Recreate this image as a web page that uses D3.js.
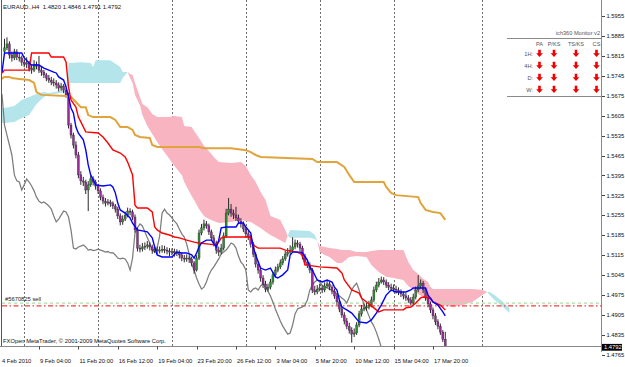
<!DOCTYPE html>
<html><head><meta charset="utf-8">
<script src="https://cdn.jsdelivr.net/npm/d3@7"></script>
<style>
html,body{margin:0;padding:0;background:#fff;}
svg{display:block;font-family:"Liberation Sans",Arial,sans-serif;}
text{white-space:pre;}
</style></head><body>
<svg id="c" width="625" height="367"></svg>
<script>
// ---------- DATA ----------
const titleText = "EURAUD.,H4  1.4820 1.4846 1.4791 1.4792";
const footerText = "FXOpen MetaTrader, \u00A9 2001-2009 MetaQuotes Software Corp.";
const orderLabel = "#5670825 sell";
const orderPrice = 1.4937;
const targetPrice = 1.4947;
const lastPrice = 1.4792;

const opens = [
1.5830,1.5843,1.5857,1.5818,1.5808,1.5829,1.5811,1.5808,1.5793,1.5786,
1.5790,1.5772,1.5765,1.5786,1.5779,1.5765,1.5758,1.5748,1.5737,1.5730,
1.5723,1.5720,1.5713,1.5702,1.5709,1.5695,1.5678,1.5572,1.5537,1.5502,
1.5467,1.5397,1.5376,1.5372,1.5344,1.5362,1.5383,1.5372,1.5358,1.5341,
1.5319,1.5305,1.5298,1.5302,1.5296,1.5288,1.5277,1.5253,1.5232,1.5242,
1.5256,1.5270,1.5267,1.5249,1.5204,1.5140,1.5137,1.5144,1.5147,1.5151,
1.5144,1.5133,1.5135,1.5131,1.5133,1.5136,1.5133,1.5130,1.5126,1.5128,
1.5123,1.5124,1.5116,1.5105,1.5102,1.5105,1.5102,1.5088,1.5063,1.5105,
1.5193,1.5211,1.5225,1.5218,1.5197,1.5176,1.5158,1.5133,1.5126,1.5140,
1.5183,1.5263,1.5277,1.5263,1.5256,1.5246,1.5235,1.5225,1.5207,1.5190,
1.5179,1.5154,1.5119,1.5084,1.5063,1.5035,1.5014,1.4996,1.5003,1.5021,
1.5046,1.5063,1.5074,1.5088,1.5102,1.5119,1.5126,1.5133,1.5144,1.5158,
1.5154,1.5140,1.5112,1.5091,1.5081,1.5063,1.4993,1.4986,1.4996,1.5000,
1.4993,1.5007,1.5014,1.5003,1.4989,1.4972,1.4951,1.4926,1.4905,1.4884,
1.4866,1.4852,1.4838,1.4842,1.4870,1.4909,1.4926,1.4930,1.4933,1.4940,
1.4958,1.4993,1.5010,1.5021,1.5028,1.5021,1.5010,1.5003,1.5000,1.4996,
1.4993,1.4986,1.4979,1.4972,1.4965,1.4958,1.4947,1.4968,1.4993,1.5007,
1.5017,1.4993,1.4965,1.4944,1.4923,1.4902,1.4881,1.4866,1.4845,1.4820];

const highs = [
1.5875,1.5880,1.5866,1.5830,1.5840,1.5838,1.5825,1.5816,1.5804,1.5810,
1.5797,1.5784,1.5800,1.5795,1.5815,1.5777,1.5766,1.5755,1.5748,1.5741,
1.5736,1.5730,1.5722,1.5720,1.5716,1.5703,1.5686,1.5580,1.5545,1.5515,
1.5478,1.5410,1.5390,1.5380,1.5375,1.5395,1.5392,1.5380,1.5366,1.5350,
1.5328,1.5316,1.5312,1.5310,1.5304,1.5295,1.5285,1.5262,1.5255,1.5268,
1.5282,1.5280,1.5275,1.5258,1.5212,1.5152,1.5158,1.5160,1.5165,1.5160,
1.5152,1.5148,1.5145,1.5146,1.5150,1.5148,1.5143,1.5140,1.5139,1.5138,
1.5136,1.5132,1.5124,1.5116,1.5118,1.5114,1.5110,1.5095,1.5115,1.5205,
1.5225,1.5240,1.5235,1.5226,1.5205,1.5186,1.5166,1.5145,1.5155,1.5195,
1.5278,1.5316,1.5295,1.5275,1.5285,1.5258,1.5245,1.5234,1.5215,1.5200,
1.5186,1.5162,1.5126,1.5095,1.5072,1.5045,1.5025,1.5015,1.5032,1.5055,
1.5075,1.5085,1.5100,1.5112,1.5130,1.5140,1.5150,1.5178,1.5170,1.5168,
1.5162,1.5148,1.5120,1.5100,1.5090,1.5070,1.5008,1.5010,1.5015,1.5010,
1.5020,1.5025,1.5022,1.5010,1.4998,1.4980,1.4960,1.4935,1.4915,1.4895,
1.4878,1.4862,1.4858,1.4880,1.4920,1.4940,1.4945,1.4948,1.4955,1.4970,
1.5005,1.5022,1.5035,1.5040,1.5038,1.5030,1.5020,1.5015,1.5012,1.5008,
1.5002,1.4995,1.4988,1.4982,1.4975,1.4968,1.4980,1.5005,1.5045,1.5030,
1.5025,1.5000,1.4975,1.4952,1.4932,1.4912,1.4890,1.4875,1.4852,1.4846];

const lows = [
1.5822,1.5835,1.5805,1.5795,1.5800,1.5800,1.5795,1.5780,1.5775,1.5772,
1.5760,1.5752,1.5758,1.5768,1.5755,1.5745,1.5737,1.5726,1.5720,1.5712,
1.5708,1.5700,1.5690,1.5692,1.5684,1.5668,1.5560,1.5525,1.5490,1.5455,
1.5385,1.5362,1.5358,1.5330,1.5270,1.5355,1.5360,1.5345,1.5330,1.5308,
1.5294,1.5286,1.5290,1.5285,1.5277,1.5265,1.5242,1.5220,1.5222,1.5235,
1.5248,1.5255,1.5238,1.5195,1.5128,1.5125,1.5128,1.5133,1.5138,1.5132,
1.5120,1.5122,1.5119,1.5121,1.5124,1.5122,1.5118,1.5112,1.5115,1.5110,
1.5112,1.5104,1.5094,1.5090,1.5092,1.5088,1.5076,1.5050,1.5058,1.5098,
1.5185,1.5202,1.5208,1.5186,1.5165,1.5146,1.5120,1.5112,1.5118,1.5132,
1.5175,1.5255,1.5250,1.5242,1.5235,1.5225,1.5212,1.5196,1.5178,1.5168,
1.5142,1.5108,1.5072,1.5050,1.5022,1.5000,1.4985,1.4988,1.4995,1.5012,
1.5038,1.5055,1.5066,1.5080,1.5095,1.5110,1.5118,1.5125,1.5136,1.5142,
1.5128,1.5100,1.5080,1.5070,1.5052,1.4982,1.4975,1.4978,1.4988,1.4982,
1.4985,1.5000,1.4992,1.4978,1.4962,1.4940,1.4915,1.4895,1.4872,1.4855,
1.4840,1.4808,1.4828,1.4835,1.4862,1.4900,1.4918,1.4920,1.4925,1.4932,
1.4950,1.4985,1.5002,1.5015,1.5010,1.5000,1.4992,1.4988,1.4985,1.4980,
1.4975,1.4968,1.4960,1.4955,1.4948,1.4938,1.4940,1.4960,1.4985,1.4998,
1.4982,1.4955,1.4932,1.4912,1.4890,1.4870,1.4855,1.4835,1.4810,1.4791];

const closes = [
1.5843,1.5857,1.5818,1.5808,1.5829,1.5811,1.5808,1.5793,1.5786,1.5790,
1.5772,1.5765,1.5786,1.5779,1.5765,1.5758,1.5748,1.5737,1.5730,1.5723,
1.5720,1.5713,1.5702,1.5709,1.5695,1.5678,1.5572,1.5537,1.5502,1.5467,
1.5397,1.5376,1.5372,1.5344,1.5362,1.5383,1.5372,1.5358,1.5341,1.5319,
1.5305,1.5298,1.5302,1.5296,1.5288,1.5277,1.5253,1.5232,1.5242,1.5256,
1.5270,1.5267,1.5249,1.5204,1.5140,1.5137,1.5144,1.5147,1.5151,1.5144,
1.5133,1.5135,1.5131,1.5133,1.5136,1.5133,1.5130,1.5126,1.5128,1.5123,
1.5124,1.5116,1.5105,1.5102,1.5105,1.5102,1.5088,1.5063,1.5105,1.5193,
1.5211,1.5225,1.5218,1.5197,1.5176,1.5158,1.5133,1.5126,1.5140,1.5183,
1.5263,1.5277,1.5263,1.5256,1.5246,1.5235,1.5225,1.5207,1.5190,1.5179,
1.5154,1.5119,1.5084,1.5063,1.5035,1.5014,1.4996,1.5003,1.5021,1.5046,
1.5063,1.5074,1.5088,1.5102,1.5119,1.5126,1.5133,1.5144,1.5158,1.5154,
1.5140,1.5112,1.5091,1.5081,1.5063,1.4993,1.4986,1.4996,1.5000,1.4993,
1.5007,1.5014,1.5003,1.4989,1.4972,1.4951,1.4926,1.4905,1.4884,1.4866,
1.4852,1.4838,1.4842,1.4870,1.4909,1.4926,1.4930,1.4933,1.4940,1.4958,
1.4993,1.5010,1.5021,1.5028,1.5021,1.5010,1.5003,1.5000,1.4996,1.4993,
1.4986,1.4979,1.4972,1.4965,1.4958,1.4947,1.4968,1.4993,1.5007,1.5017,
1.4993,1.4965,1.4944,1.4923,1.4902,1.4881,1.4866,1.4845,1.4820,1.4792];

// Tenkan-sen (blue) at bar indices
const tenkanIdx = [-1,0,7,8,10,11,14,16,18,20,21,22,24,25,26,27,28,29,30,32,33,34,35,37,40,43,44,45,46,47,49,51,52,54,58,60,61,62,64,68,70,72,74,76,77,78,79,80,82,84,86,87,88,90,94,95,97,98,100,101,102,104,106,108,110,111,113,115,116,117,120,121,123,124,125,127,129,131,133,134,135,136,137,139,141,144,147,149,151,153,155,157,159,163,165,166,171,172,174,176,178,179];
const tenkanVal = [1.5758,1.5825,1.5825,1.5808,1.5790,1.5783,1.5783,1.5772,1.5765,1.5758,
1.5755,1.5741,1.5730,1.5706,1.5671,1.5632,1.5614,1.5565,1.5544,1.5520,
1.5485,1.5432,1.5397,1.5362,1.5358,1.5362,1.5355,1.5334,1.5298,1.5274,
1.5263,1.5246,1.5228,1.5204,1.5197,1.5176,1.5144,1.5116,1.5109,1.5109,
1.5126,1.5123,1.5123,1.5116,1.5105,1.5123,1.5144,1.5158,1.5168,1.5168,
1.5144,1.5168,1.5211,1.5214,1.5214,1.5228,1.5228,1.5214,1.5193,1.5144,
1.5116,1.5070,1.5063,1.5070,1.5039,1.5035,1.5046,1.5063,1.5116,1.5126,
1.5126,1.5123,1.5098,1.5074,1.5063,1.5028,1.5021,1.5028,1.5021,1.5003,
1.4993,1.4958,1.4933,1.4923,1.4912,1.4881,1.4877,1.4888,1.4912,1.4940,
1.4975,1.4993,1.4986,1.4986,1.4993,1.5000,1.5000,1.4975,1.4951,1.4940,
1.4916,1.4902];

// Kijun-sen (red)
const kijunIdx = [-1,0,10,11,18,19,24,25,26,27,29,30,31,33,38,40,42,44,47,49,50,52,53,54,58,60,61,62,64,67,69,71,74,77,79,83,86,87,88,90,100,101,103,112,114,119,121,122,128,135,137,138,141,144,145,146,150,152,154,162,163,165,167,169,170,173,174,177,179];
const kijunVal = [1.5755,1.5765,1.5765,1.5825,1.5825,1.5811,1.5811,1.5793,1.5706,1.5660,
1.5635,1.5600,1.5583,1.5548,1.5544,1.5530,1.5509,1.5485,1.5474,1.5460,
1.5442,1.5397,1.5291,1.5281,1.5281,1.5267,1.5214,1.5204,1.5193,1.5186,
1.5179,1.5176,1.5168,1.5161,1.5158,1.5154,1.5151,1.5161,1.5176,1.5179,
1.5179,1.5151,1.5140,1.5140,1.5133,1.5126,1.5116,1.5081,1.5074,1.5070,
1.5053,1.5028,1.4993,1.4982,1.4965,1.4958,1.4930,1.4916,1.4923,1.4923,
1.4930,1.4933,1.4947,1.4965,1.4968,1.4965,1.4951,1.4940,1.4923];

// Long-period line (orange)
const longIdx = [-2,0,2,3,6,10,12,13,15,25,27,29,31,33,34,36,43,45,47,50,52,53,55,59,60,62,79,81,92,98,100,102,104,125,127,135,138,140,142,154,155,157,159,168,169,171,174,177,179];
const longVal = [1.5730,1.5741,1.5741,1.5737,1.5734,1.5730,1.5720,1.5688,1.5678,1.5674,
1.5671,1.5653,1.5635,1.5635,1.5607,1.5600,1.5600,1.5590,1.5565,1.5565,
1.5555,1.5537,1.5530,1.5527,1.5502,1.5495,1.5495,1.5491,1.5491,1.5484,
1.5477,1.5467,1.5460,1.5453,1.5442,1.5442,1.5425,1.5397,1.5372,1.5372,
1.5355,1.5334,1.5326,1.5319,1.5298,1.5274,1.5267,1.5263,1.5239];

// Senkou spans (cloud), shifted 26 bars ahead
const cloudIdx = [-1,0,4,7,10,13,16,18,25,26,31,35,36,37,43,47,48,50,51,52,53,55,56,58,60,62,64,67,69,72,73,76,77,79,81,83,85,87,92,96,98,100,102,104,106,108,112,114,115,116,124,126,127,128,130,132,135,137,140,143,147,149,152,155,158,162,163,164,166,168,170,172,173,174,178,182,186,190,194,196,197,199,202,205];
const spanA = [1.5632,1.5632,1.5639,1.5660,1.5671,1.5681,1.5688,1.5685,1.5695,1.5790,
1.5793,1.5790,1.5776,1.5800,1.5800,1.5776,1.5758,1.5758,1.5737,1.5720,
1.5678,1.5642,1.5607,1.5569,1.5541,1.5513,1.5488,1.5453,1.5428,1.5397,
1.5372,1.5323,1.5309,1.5277,1.5253,1.5242,1.5235,1.5228,1.5232,1.5239,
1.5235,1.5232,1.5221,1.5211,1.5197,1.5186,1.5168,1.5158,1.5183,1.5204,
1.5200,1.5186,1.5165,1.5126,1.5116,1.5109,1.5088,1.5088,1.5109,1.5112,
1.5109,1.5081,1.5056,1.5039,1.5035,1.5028,1.5017,1.5007,1.4993,1.4979,
1.4968,1.4954,1.4951,1.4947,1.4940,1.4933,1.4940,1.4951,1.4975,1.4986,
1.4986,1.4975,1.4954,1.4930];
const spanB = [1.5579,1.5579,1.5583,1.5597,1.5607,1.5646,1.5671,1.5678,1.5688,1.5720,
1.5720,1.5720,1.5720,1.5720,1.5720,1.5720,1.5737,1.5758,1.5751,1.5748,
1.5720,1.5671,1.5646,1.5635,1.5611,1.5600,1.5600,1.5600,1.5604,1.5600,
1.5569,1.5565,1.5551,1.5527,1.5499,1.5481,1.5460,1.5442,1.5439,1.5442,
1.5428,1.5397,1.5372,1.5337,1.5309,1.5253,1.5239,1.5204,1.5183,1.5176,
1.5176,1.5172,1.5165,1.5147,1.5144,1.5140,1.5137,1.5133,1.5133,1.5126,
1.5126,1.5130,1.5133,1.5133,1.5133,1.5133,1.5112,1.5091,1.5063,1.5049,
1.5032,1.5021,1.5003,1.4996,1.4996,1.4996,1.4996,1.4996,1.4993,1.4986,
1.4975,1.4958,1.4937,1.4912];
const chikouShift = 26;

const priceTicks = [1.5955,1.5885,1.5815,1.5745,1.5675,1.5605,1.5535,1.5465,1.5395,1.5325,1.5255,1.5185,1.5115,1.5045,1.4975,1.4905,1.4835,1.4765];
const timeLabels = ["4 Feb 2010","9 Feb 04:00","11 Feb 20:00","16 Feb 12:00","19 Feb 04:00","23 Feb 20:00","26 Feb 12:00","3 Mar 04:00","5 Mar 20:00","10 Mar 12:00","15 Mar 04:00","17 Mar 20:00"];
const timeIdx = [0,14,30,46,62,78,94,110,126,142,158,174];
const weekStartIdx = [8,38,68,98,128,158,194];

const monitorTitle = "ich360 Monitor v2";
const monitorCols = ["PA","P/KS","TS/KS","CS"];
const monitorRows = ["1H:","4H:","D:","W:"];
const monitorSignals = [[-1,-1,-1,-1],[-1,-1,-1,-1],[-1,-1,-1,-1],[-1,-1,-1,-1]];

// ---------- DRAW ----------
const svg = d3.select("#c");
const W = 625, H = 367;
const plotL = 2, plotR = 602, plotT = 0, plotB = 346.5;

const x = d3.scaleLinear().domain([0, 179]).range([4.5, 445.29]);
const y = d3.scaleLinear().domain([1.4765, 1.5955]).range([354.9, 16]);

svg.append("rect").attr("width", W).attr("height", H).attr("fill", "#fff");

svg.append("defs").append("clipPath").attr("id", "plot")
  .append("rect").attr("x", plotL).attr("y", plotT).attr("width", plotR - plotL).attr("height", plotB - plotT);

const plot = svg.append("g").attr("clip-path", "url(#plot)");

// grid
plot.selectAll("line.grid").data(weekStartIdx).enter().append("line")
  .attr("x1", d => Math.round(x(d)) + 0.5).attr("x2", d => Math.round(x(d)) + 0.5)
  .attr("y1", plotT).attr("y2", plotB)
  .attr("stroke", "#6e6e6e").attr("stroke-width", 1).attr("stroke-dasharray", "2,2");

// cloud
const cloud = cloudIdx.map((i, k) => ({ i, a: spanA[k], b: spanB[k] }));
plot.append("path").datum(cloud)
  .attr("d", d3.area().x(d => x(d.i)).y0(d => y(d.b)).y1(d => y(Math.max(d.a, d.b))))
  .attr("fill", "#b3e5ea");
plot.append("path").datum(cloud)
  .attr("d", d3.area().x(d => x(d.i)).y0(d => y(d.a)).y1(d => y(Math.max(d.a, d.b))))
  .attr("fill", "#f8b4c1");

// order lines
plot.append("line").attr("x1", plotL).attr("x2", plotR)
  .attr("y1", y(targetPrice)).attr("y2", y(targetPrice))
  .attr("stroke", "#a8e0a8").attr("stroke-width", 1.2).attr("stroke-dasharray", "3,3");
plot.append("line").attr("x1", plotL).attr("x2", plotR)
  .attr("y1", y(orderPrice)).attr("y2", y(orderPrice))
  .attr("stroke", "#ff3b3b").attr("stroke-width", 1.2).attr("stroke-dasharray", "5,2.5,1.5,2.5");
plot.append("text").attr("x", 5).attr("y", y(targetPrice) - 2.5)
  .attr("font-size", 5.8).attr("fill", "#222").text(orderLabel);

// chikou span (gray)
const chikou = closes.map((c, i) => [i - chikouShift, c]);
plot.append("path").datum(chikou)
  .attr("d", d3.line().x(d => x(d[0])).y(d => y(d[1])))
  .attr("fill", "none").attr("stroke", "#7d7d7d").attr("stroke-width", 1.25);

// candles
const bars = closes.map((c, i) => ({ i, o: opens[i], h: highs[i], l: lows[i], c }));
const cg = plot.append("g");
cg.selectAll("line").data(bars).enter().append("line")
  .attr("x1", d => x(d.i)).attr("x2", d => x(d.i))
  .attr("y1", d => y(d.h)).attr("y2", d => y(d.l))
  .attr("stroke", "#2a2a2a").attr("stroke-width", 1);
cg.selectAll("rect").data(bars).enter().append("rect")
  .attr("x", d => x(d.i) - 1).attr("width", 2)
  .attr("y", d => y(Math.max(d.o, d.c)))
  .attr("height", d => Math.max(1, Math.abs(y(d.o) - y(d.c))))
  .attr("fill", d => d.c >= d.o ? "#2f8f2f" : "#9a2a9c")
  .attr("stroke", "#2a2a2a").attr("stroke-width", 0.35);

// lines
const lineGen = d3.line().x(d => x(d[0])).y(d => y(d[1]));
plot.append("path").datum(d3.zip(longIdx, longVal)).attr("d", lineGen)
  .attr("fill", "none").attr("stroke", "#e0a43a").attr("stroke-width", 2);
plot.append("path").datum(d3.zip(kijunIdx, kijunVal)).attr("d", lineGen)
  .attr("fill", "none").attr("stroke", "#ff0000").attr("stroke-width", 1.4);
plot.append("path").datum(d3.zip(tenkanIdx, tenkanVal)).attr("d", lineGen)
  .attr("fill", "none").attr("stroke", "#0000ff").attr("stroke-width", 1.4);

// borders
svg.append("line").attr("x1", 1.5).attr("x2", 1.5).attr("y1", 0).attr("y2", plotB)
  .attr("stroke", "#555").attr("stroke-width", 1);
svg.append("line").attr("x1", 0).attr("x2", plotR).attr("y1", plotB).attr("y2", plotB)
  .attr("stroke", "#888").attr("stroke-width", 1);
svg.append("line").attr("x1", plotR - 0.5).attr("x2", plotR - 0.5).attr("y1", 0).attr("y2", 352)
  .attr("stroke", "#888").attr("stroke-width", 1);

// price axis
const pa = svg.append("g");
pa.selectAll("line").data(priceTicks).enter().append("line")
  .attr("x1", plotR).attr("x2", plotR + 3)
  .attr("y1", d => Math.round(y(d)) + 0.5).attr("y2", d => Math.round(y(d)) + 0.5)
  .attr("stroke", "#444");
pa.selectAll("text").data(priceTicks).enter().append("text")
  .attr("x", plotR + 4.5).attr("y", d => y(d) + 2.1)
  .attr("font-size", 5.8).attr("fill", "#111").text(d => d.toFixed(4));
pa.append("rect").attr("x", plotR).attr("y", y(lastPrice) - 3.3).attr("width", 20).attr("height", 6.8).attr("fill", "#000");
pa.append("text").attr("x", plotR + 2).attr("y", y(lastPrice) + 2.1)
  .attr("font-size", 5.8).attr("fill", "#fff").text(lastPrice.toFixed(4));

// time axis
const ta = svg.append("g");
ta.selectAll("line").data(timeIdx.slice(1)).enter().append("line")
  .attr("x1", d => Math.round(x(d)) + 0.5).attr("x2", d => Math.round(x(d)) + 0.5)
  .attr("y1", plotB).attr("y2", plotB + 3).attr("stroke", "#444");
ta.selectAll("text").data(timeLabels).enter().append("text")
  .attr("x", (d, k) => k === 0 ? 2 : x(timeIdx[k]) + 1)
  .attr("y", 363).attr("font-size", 5.8).attr("fill", "#111").text(d => d);

// title and footer
svg.append("text").attr("x", 3).attr("y", 8.5).attr("font-size", 6).attr("fill", "#111").text(titleText);
svg.append("text").attr("x", 3).attr("y", 343).attr("font-size", 5.8).attr("fill", "#111").text(footerText);

// monitor panel
const mp = svg.append("g");
mp.append("text").attr("x", 600).attr("y", 35).attr("text-anchor", "end")
  .attr("font-size", 5.6).attr("fill", "#555").text(monitorTitle);
mp.append("line").attr("x1", 507).attr("x2", plotR).attr("y1", 38.5).attr("y2", 38.5).attr("stroke", "#8a8a8a");
mp.append("line").attr("x1", 507).attr("x2", plotR).attr("y1", 96.5).attr("y2", 96.5).attr("stroke", "#8a8a8a");
const colX = [539.5, 554, 576, 596.5];
const rowY = [53.5, 65.5, 77.5, 89.5];
mp.selectAll("text.h").data(monitorCols).enter().append("text")
  .attr("x", (d, k) => colX[k]).attr("y", 46).attr("text-anchor", "middle")
  .attr("font-size", 5.6).attr("fill", "#555").text(d => d);
mp.selectAll("text.r").data(monitorRows).enter().append("text")
  .attr("x", 533).attr("y", (d, k) => rowY[k] + 2).attr("text-anchor", "end")
  .attr("font-size", 5.6).attr("fill", "#555").text(d => d);
const arrowDown = "M-1.3,-3.8 L1.3,-3.8 L1.3,-0.3 L3.3,-0.3 L0,3.6 L-3.3,-0.3 L-1.3,-0.3 Z";
monitorSignals.forEach((row, r) => row.forEach((s, c) => {
  mp.append("path").attr("d", arrowDown)
    .attr("transform", `translate(${colX[c]},${rowY[r]})${s > 0 ? " rotate(180)" : ""}`)
    .attr("fill", "#f00000");
}));
</script>
</body></html>
